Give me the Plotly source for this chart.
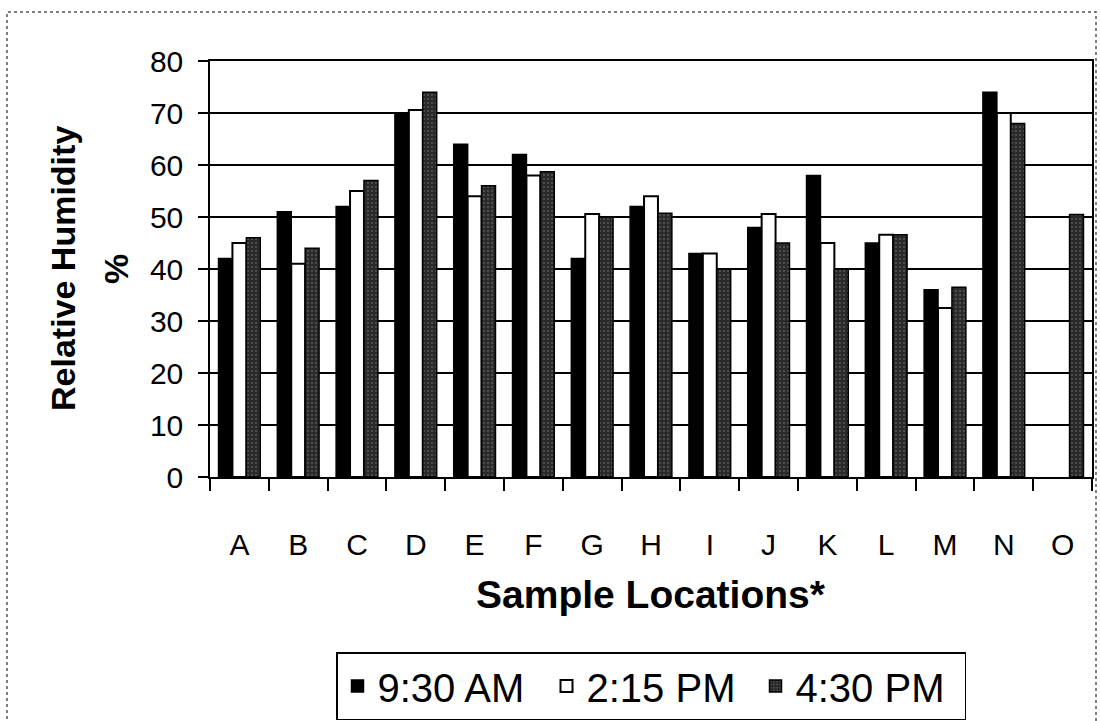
import plotly.graph_objects as go

locations = ["A", "B", "C", "D", "E", "F", "G", "H", "I", "J", "K", "L", "M", "N", "O"]
series_names = ["9:30 AM", "2:15 PM", "4:30 PM"]
rh_0930 = [42, 51, 52, 70, 64, 62, 42, 52, 43, 48, 58, 45, 36, 74, None]
rh_1415 = [45, 41, 55, 70.6, 54, 58, 50.6, 54, 43, 50.6, 45, 46.6, 32.5, 70, None]
rh_1630 = [46, 44, 57, 74, 56, 58.7, 50, 50.7, 40, 45, 40, 46.6, 36.5, 68, 50.5]
y_ticks = [0, 10, 20, 30, 40, 50, 60, 70, 80]

FONT = "Liberation Sans, Arial, sans-serif"

fig = go.Figure()
fig.add_trace(go.Bar(x=locations, y=rh_0930, name=series_names[0],
                     marker=dict(color="#000000", line=dict(color="#000000", width=1.5))))
fig.add_trace(go.Bar(x=locations, y=rh_1415, name=series_names[1],
                     marker=dict(color="#ffffff", line=dict(color="#000000", width=2))))
fig.add_trace(go.Bar(x=locations, y=rh_1630, name=series_names[2],
                     marker=dict(color="#303030", line=dict(color="#000000", width=1.5),
                                 pattern=dict(shape=".", bgcolor="#2a2a2a", fgcolor="#8a8a8a",
                                              size=4, solidity=0.2))))

L, R, T, B = 210, 8, 61, 244
W, H = 1100, 721
pw = W - L - R
ph = H - T - B

def px_x(x):
    return (x - L) / pw

def px_y(y):
    return (H - B - y) / ph

fig.update_layout(
    width=W, height=H,
    margin=dict(l=L, r=R, t=T, b=B, pad=0, autoexpand=False),
    paper_bgcolor="white", plot_bgcolor="white",
    font=dict(family=FONT, color="black", size=30),
    barmode="group", bargap=0.29, bargroupgap=0,
    showlegend=True,
    legend=dict(orientation="h", x=px_x(336), xanchor="left", y=px_y(686), yanchor="middle",
                font=dict(family=FONT, size=40, color="black"),
                bordercolor="black", borderwidth=1.5, bgcolor="white",
                entrywidth=164, traceorder="normal"),
    xaxis=dict(type="category", categoryorder="array", categoryarray=locations,
               tickson="boundaries", ticks="outside", ticklen=12, tickwidth=1.5, tickcolor="black",
               showline=True, linecolor="black", linewidth=1.5, mirror=True,
               showgrid=False, ticklabelstandoff=40, automargin=False,
               tickfont=dict(family=FONT, size=30, color="black")),
    yaxis=dict(range=[0, 80], tickvals=y_ticks, ticks="outside", ticklen=10, tickwidth=1.5,
               tickcolor="black", showline=True, linecolor="black", linewidth=1.5, mirror=True,
               showgrid=True, gridcolor="black", gridwidth=1.5, zeroline=False,
               ticklabelstandoff=9, automargin=False,
               tickfont=dict(family=FONT, size=30, color="black")),
)

fig.add_annotation(text="<b>Relative Humidity</b>", xref="paper", yref="paper",
                   x=px_x(63), y=0.5, xanchor="center", yanchor="middle", textangle=-90,
                   showarrow=False, font=dict(family=FONT, size=34, color="black"))
fig.add_annotation(text="<b>%</b>", xref="paper", yref="paper",
                   x=px_x(116), y=0.5, xanchor="center", yanchor="middle", textangle=-90,
                   showarrow=False, font=dict(family=FONT, size=34, color="black"))
fig.add_annotation(text="<b>Sample Locations*</b>", xref="paper", yref="paper",
                   x=0.5, y=px_y(594), xanchor="center", yanchor="middle",
                   showarrow=False, font=dict(family=FONT, size=39, color="black"))

# chart-area frame (scanned page border)
fig.add_shape(type="rect", xref="paper", yref="paper",
              x0=px_x(7), x1=px_x(1096), y0=px_y(730), y1=px_y(12),
              line=dict(color="#555555", width=1.5, dash="dot"), layer="below")

fig.write_html("out.html", config={"displayModeBar": False},
               post_script="document.body.style.margin='0';")
